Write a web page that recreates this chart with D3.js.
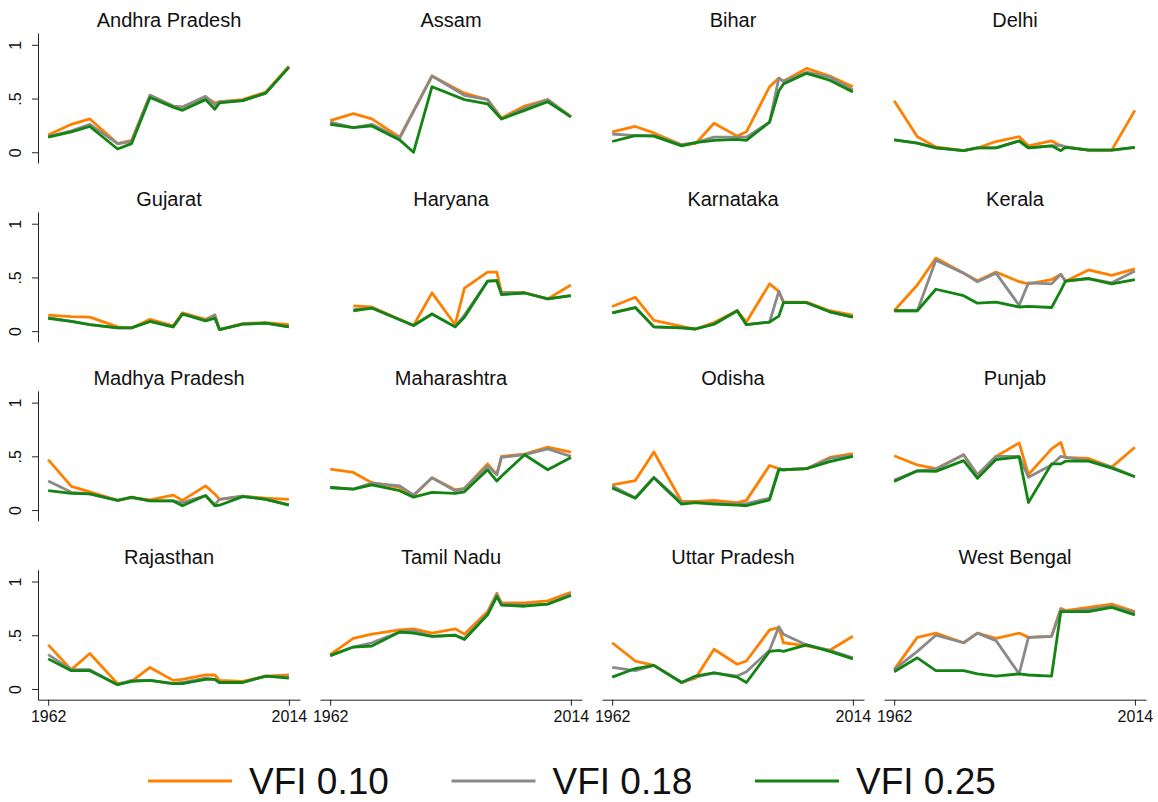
<!DOCTYPE html>
<html>
<head>
<meta charset="utf-8">
<script src="https://cdn.jsdelivr.net/npm/d3@7"></script>
<style>
  body { margin: 0; background: #fff; }
  svg { display: block; }
  text { font-family: "Liberation Sans", Arial, Helvetica, sans-serif; fill: #111; }
</style>
</head>
<body>
<svg id="chart" width="1158" height="802"></svg>
<script>
// Lok Sabha election years on the x axis
const years = [1962, 1967, 1971, 1977, 1980, 1984, 1989, 1991, 1996, 1998, 1999, 2004, 2009, 2014];

const states = [
  "Andhra Pradesh", "Assam", "Bihar", "Delhi",
  "Gujarat", "Haryana", "Karnataka", "Kerala",
  "Madhya Pradesh", "Maharashtra", "Odisha", "Punjab",
  "Rajasthan", "Tamil Nadu", "Uttar Pradesh", "West Bengal"
];

// One row per state (same order as `states`), one value per election year; null = no value
const vfi10 = [
  [0.16, 0.26, 0.31, 0.08, 0.11, 0.53, 0.43, 0.42, 0.51, 0.46, 0.47, 0.49, 0.56, 0.80],
  [0.295, 0.36, 0.31, 0.14, null, 0.71, null, 0.55, 0.49, null, 0.32, 0.43, 0.49, 0.33],
  [0.19, 0.24, 0.18, 0.07, 0.08, 0.27, 0.15, 0.19, 0.61, 0.69, 0.66, 0.78, 0.71, 0.61],
  [0.48, 0.145, 0.05, 0.015, 0.04, 0.10, 0.145, 0.06, 0.105, 0.06, 0.05, 0.02, 0.02, 0.39],
  [0.15, 0.135, 0.13, 0.04, 0.03, 0.11, 0.05, 0.17, 0.11, 0.15, 0.015, 0.07, 0.08, 0.06],
  [null, 0.235, 0.225, null, 0.053, 0.356, 0.06, 0.40, 0.55, 0.55, 0.36, 0.36, 0.30, 0.43],
  [0.23, 0.315, 0.10, 0.045, 0.02, 0.08, 0.19, 0.085, 0.44, 0.37, 0.27, 0.27, 0.19, 0.15],
  [0.19, 0.43, 0.68, 0.54, 0.47, 0.55, 0.46, 0.44, 0.48, 0.53, 0.465, 0.57, 0.52, 0.58],
  [0.47, 0.22, 0.17, 0.09, 0.115, 0.095, 0.14, 0.09, 0.225, 0.15, 0.10, 0.13, 0.11, 0.10],
  [0.38, 0.35, 0.255, 0.21, 0.13, 0.30, 0.19, 0.20, 0.43, 0.33, 0.50, 0.52, 0.585, 0.54],
  [0.235, 0.275, 0.54, 0.08, 0.08, 0.09, 0.07, 0.09, 0.415, 0.385, 0.375, 0.385, 0.49, 0.525],
  [0.505, 0.42, 0.385, 0.515, 0.32, 0.50, 0.625, 0.33, 0.57, 0.63, 0.49, 0.48, 0.40, 0.585],
  [0.41, 0.18, 0.33, 0.05, 0.07, 0.20, 0.08, 0.09, 0.13, 0.13, 0.08, 0.07, 0.12, 0.13],
  [0.32, 0.47, 0.51, 0.55, 0.56, 0.52, 0.56, 0.51, 0.72, 0.89, 0.80, 0.80, 0.82, 0.90],
  [0.43, 0.26, 0.22, 0.06, 0.10, 0.37, 0.23, 0.26, 0.55, 0.57, 0.43, 0.40, 0.36, 0.49],
  [0.18, 0.48, 0.52, 0.43, 0.52, 0.47, 0.52, 0.48, 0.49, 0.75, 0.73, 0.76, 0.79, 0.72]
];

const vfi18 = [
  [0.145, 0.20, 0.26, 0.08, 0.10, 0.53, 0.43, 0.42, 0.52, 0.44, 0.47, 0.48, 0.55, 0.795],
  [0.28, 0.23, 0.26, 0.13, null, 0.71, null, 0.53, 0.49, null, 0.31, 0.41, 0.49, 0.33],
  [0.17, 0.155, 0.155, 0.07, 0.09, 0.14, 0.14, 0.14, 0.28, 0.69, 0.66, 0.745, 0.70, 0.58],
  [0.115, 0.085, 0.04, 0.015, 0.04, 0.04, 0.105, 0.04, 0.06, 0.065, 0.05, 0.02, 0.02, 0.045],
  [0.125, 0.09, 0.06, 0.03, 0.03, 0.09, 0.04, 0.16, 0.10, 0.15, 0.015, 0.065, 0.075, 0.04],
  [null, 0.20, 0.215, null, 0.053, 0.16, 0.04, 0.15, 0.465, 0.47, 0.36, 0.355, 0.30, 0.33],
  [0.17, 0.22, 0.04, 0.03, 0.02, 0.065, 0.19, 0.06, 0.085, 0.37, 0.27, 0.265, 0.18, 0.13],
  [0.19, 0.19, 0.66, 0.54, 0.46, 0.54, 0.24, 0.45, 0.44, 0.53, 0.465, 0.49, 0.45, 0.56],
  [0.27, 0.165, 0.15, 0.09, 0.115, 0.085, 0.085, 0.07, 0.135, 0.05, 0.10, 0.13, 0.10, 0.05],
  [0.21, 0.195, 0.25, 0.225, 0.14, 0.30, 0.18, 0.20, 0.41, 0.33, 0.49, 0.515, 0.57, 0.50],
  [0.225, 0.115, 0.305, 0.07, 0.07, 0.065, 0.055, 0.06, 0.11, 0.385, 0.375, 0.385, 0.48, 0.51],
  [0.28, 0.365, 0.38, 0.515, 0.33, 0.50, 0.50, 0.305, 0.42, 0.50, 0.49, 0.46, 0.40, 0.31],
  [0.32, 0.18, 0.18, 0.04, 0.08, 0.08, 0.05, 0.06, 0.10, 0.09, 0.06, 0.06, 0.12, 0.11],
  [0.31, 0.39, 0.43, 0.53, 0.54, 0.49, 0.50, 0.47, 0.70, 0.88, 0.79, 0.78, 0.79, 0.88],
  [0.20, 0.17, 0.22, 0.06, 0.11, 0.15, 0.12, 0.16, 0.36, 0.58, 0.51, 0.41, 0.36, 0.29],
  [0.18, 0.35, 0.50, 0.43, 0.52, 0.45, 0.14, 0.48, 0.49, 0.74, 0.72, 0.74, 0.77, 0.71]
];

const vfi25 = [
  [0.14, 0.19, 0.24, 0.03, 0.08, 0.51, 0.42, 0.39, 0.49, 0.40, 0.46, 0.48, 0.55, 0.79],
  [0.26, 0.23, 0.245, 0.115, 0.0, 0.61, null, 0.49, 0.45, null, 0.31, 0.39, 0.47, 0.33],
  [0.10, 0.155, 0.15, 0.06, 0.09, 0.11, 0.12, 0.11, 0.28, 0.57, 0.635, 0.735, 0.67, 0.56],
  [0.115, 0.085, 0.04, 0.015, 0.04, 0.04, 0.105, 0.04, 0.06, 0.015, 0.045, 0.02, 0.02, 0.045],
  [0.12, 0.09, 0.06, 0.03, 0.03, 0.09, 0.04, 0.16, 0.095, 0.12, 0.015, 0.065, 0.075, 0.04],
  [null, 0.19, 0.215, null, 0.053, 0.16, 0.04, 0.13, 0.465, 0.47, 0.34, 0.355, 0.30, 0.33],
  [0.17, 0.22, 0.04, 0.03, 0.02, 0.065, 0.19, 0.06, 0.085, 0.14, 0.265, 0.265, 0.18, 0.13],
  [0.19, 0.19, 0.39, 0.33, 0.26, 0.27, 0.225, 0.23, 0.22, 0.38, 0.465, 0.49, 0.44, 0.48],
  [0.18, 0.155, 0.15, 0.09, 0.12, 0.085, 0.085, 0.04, 0.135, 0.04, 0.045, 0.125, 0.10, 0.045],
  [0.21, 0.195, 0.235, 0.18, 0.12, 0.165, 0.155, 0.17, 0.375, 0.27, 0.315, 0.515, 0.375, 0.49],
  [0.205, 0.11, 0.30, 0.055, 0.07, 0.055, 0.045, 0.04, 0.095, 0.375, 0.375, 0.385, 0.45, 0.50],
  [0.265, 0.365, 0.36, 0.46, 0.295, 0.47, 0.495, 0.07, 0.43, 0.43, 0.455, 0.455, 0.39, 0.31],
  [0.28, 0.17, 0.17, 0.04, 0.07, 0.08, 0.05, 0.05, 0.09, 0.09, 0.06, 0.06, 0.12, 0.10],
  [0.31, 0.39, 0.40, 0.53, 0.52, 0.49, 0.50, 0.46, 0.69, 0.86, 0.78, 0.77, 0.79, 0.87],
  [0.11, 0.19, 0.22, 0.06, 0.12, 0.15, 0.11, 0.06, 0.35, 0.36, 0.35, 0.41, 0.35, 0.28],
  [0.16, 0.29, 0.17, 0.17, 0.14, 0.12, 0.14, 0.13, 0.12, 0.72, 0.72, 0.72, 0.76, 0.69]
];

const seriesNames = ["VFI 0.10", "VFI 0.18", "VFI 0.25"];
const seriesColors = ["#ff8000", "#8a8a8a", "#128412"];
const xTickValues = [1962, 2014];
const yTickValues = [0, 0.5, 1];
const yTickLabels = ["0", ".5", "1"];

// ---- layout ----
const nCols = 4, nRows = 4;
const panelW = 262, panelH = 130;
const colStep = 282, rowStep = 178.9;
const left0 = 38, top0 = 33;

const svg = d3.select("#chart");

const x = d3.scaleLinear().domain([1959.8, 2016.4]).range([0, panelW]);
const y = d3.scaleLinear().domain([-0.1, 1.11]).range([panelH, 0]);

const line = d3.line()
  .x(d => x(d.year))
  .y(d => y(d.value));

const allSeries = [vfi10, vfi18, vfi25];

states.forEach((name, si) => {
  const col = si % nCols, row = Math.floor(si / nCols);
  const g = svg.append("g")
    .attr("transform", `translate(${left0 + col * colStep},${top0 + row * rowStep})`);

  // panel title
  g.append("text")
    .attr("x", panelW / 2)
    .attr("y", -6)
    .attr("text-anchor", "middle")
    .style("font-size", "20px")
    .text(name);

  // y axis on the first column only
  if (col === 0) {
    const ya = g.append("g")
      .call(d3.axisLeft(y)
        .tickValues(yTickValues)
        .tickFormat((d, i) => yTickLabels[i])
        .tickSize(6)
        .tickSizeOuter(0));
    ya.select(".domain").attr("stroke", "#222");
    ya.selectAll(".tick line").attr("stroke", "#222");
    ya.selectAll(".tick text")
      .attr("transform", "rotate(-90)")
      .attr("x", 0)
      .attr("y", -17)
      .attr("dy", 0)
      .attr("text-anchor", "middle")
      .style("font-size", "16px")
      .style("font-family", "'Liberation Sans', Arial, Helvetica, sans-serif")
      .attr("fill", "#111");
  }

  // x axis on the bottom row only
  if (row === nRows - 1) {
    const xa = g.append("g")
      .attr("transform", `translate(0,${panelH})`)
      .call(d3.axisBottom(x)
        .tickValues(xTickValues)
        .tickFormat(d3.format("d"))
        .tickSize(6)
        .tickSizeOuter(0));
    xa.select(".domain").attr("stroke", "#222");
    xa.selectAll(".tick line").attr("stroke", "#222");
    xa.selectAll(".tick text")
      .attr("y", 11)
      .style("font-size", "16px")
      .style("font-family", "'Liberation Sans', Arial, Helvetica, sans-serif")
      .attr("fill", "#111");
  }

  // three VFI series, green drawn last
  allSeries.forEach((series, k) => {
    const pts = years
      .map((yr, i) => ({ year: yr, value: series[si][i] }))
      .filter(d => d.value !== null);
    g.append("path")
      .datum(pts)
      .attr("fill", "none")
      .attr("stroke", seriesColors[k])
      .attr("stroke-width", 2.8)
      .attr("stroke-linejoin", "round")
      .attr("d", line);
  });
});

// ---- legend ----
const legend = svg.append("g").attr("transform", "translate(148,781)");
seriesNames.forEach((name, k) => {
  const item = legend.append("g").attr("transform", `translate(${k * 303.5},0)`);
  item.append("line")
    .attr("x1", 0).attr("x2", 84)
    .attr("y1", 0).attr("y2", 0)
    .attr("stroke", seriesColors[k])
    .attr("stroke-width", 3);
  item.append("text")
    .attr("x", 101)
    .attr("y", 13)
    .style("font-size", "37px")
    .text(name);
});
</script>
</body>
</html>
